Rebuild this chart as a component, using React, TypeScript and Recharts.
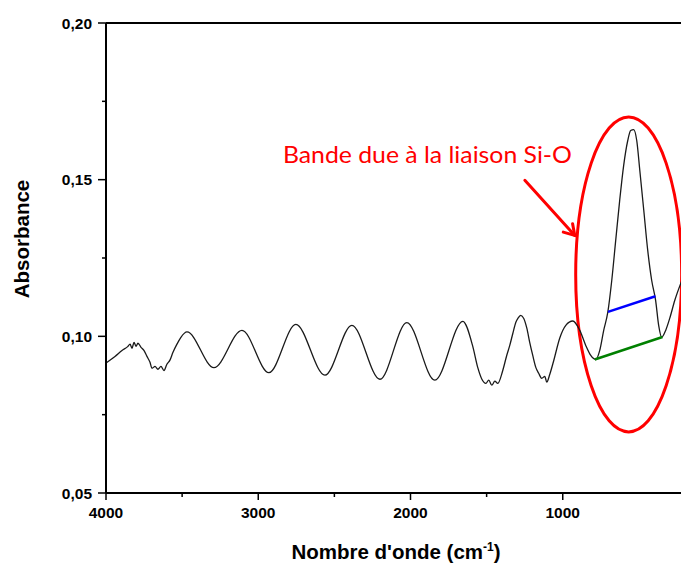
import React from 'react';
import { LineChart, Line, XAxis, YAxis, ReferenceLine, ReferenceArea, ReferenceDot } from 'recharts';

// FTIR spectrum (wavenumber in cm-1, absorbance)
const wavenumbers = [
  4000, 3941, 3895, 3856, 3842, 3829, 3816, 3803, 3790, 3770, 3751, 3731, 3711, 3698, 3678, 3659,
  3639, 3619, 3600, 3580, 3560, 3534, 3508, 3468, 3291, 3107, 2930, 2753, 2562, 2385, 2201, 2024,
  1840, 1656, 1591, 1558, 1532, 1505, 1486, 1466, 1446, 1427, 1394, 1368, 1348, 1328, 1308, 1295,
  1276, 1256, 1236, 1217, 1197, 1177, 1158, 1138, 1118, 1105, 1085, 1059, 1020, 980, 934, 888,
  849, 816, 783, 757, 731, 704, 678, 652, 626, 600, 573, 554, 534, 514, 494, 468,
  442, 416, 390, 370, 350, 324, 297, 264, 225, 166,
];
const absorbance = [
  0.0915, 0.0936, 0.0955, 0.0968, 0.0975, 0.0962, 0.0981, 0.0968, 0.0978, 0.0965, 0.0955, 0.0936, 0.0917, 0.0898, 0.0904, 0.0895,
  0.0904, 0.0891, 0.0911, 0.0924, 0.0949, 0.0975, 0.0997, 0.1014, 0.09, 0.1019, 0.0884, 0.1038, 0.0876, 0.1035, 0.0863, 0.1044,
  0.086, 0.1048, 0.0968, 0.09, 0.0864, 0.085, 0.086, 0.0844, 0.0857, 0.085, 0.0891, 0.0939, 0.0971, 0.1009, 0.1045, 0.1057,
  0.1067, 0.1057, 0.1026, 0.0981, 0.0939, 0.0901, 0.0882, 0.0866, 0.0872, 0.0854, 0.0879, 0.0923, 0.0994, 0.1035, 0.1049, 0.1019,
  0.0971, 0.0939, 0.0926, 0.0955, 0.1019, 0.1077, 0.1179, 0.1307, 0.1434, 0.1545, 0.1625, 0.1657, 0.166, 0.1625, 0.153, 0.1403,
  0.1275, 0.1179, 0.1115, 0.1035, 0.0997, 0.1019, 0.1058, 0.1115, 0.1169, 0.1236,
];

const xTicks = [4000, 3500, 3000, 2500, 2000, 1500, 1000];
const xLabelled = [4000, 3000, 2000, 1000];
const yTicks = [0.05, 0.075, 0.1, 0.125, 0.15, 0.175, 0.2];
const yLabelled = [0.05, 0.1, 0.15, 0.2];

// annotation anchors, in data units
const noteText = 'Bande due à la liaison Si-O';
const notePos = { wn: 2838, abs: 0.1552 };
const arrowSeg = [{ wn: 1249, abs: 0.1498 }, { wn: 921, abs: 0.1322 }];
const ellipseBox = { wn1: 915, wn2: 219, abs1: 0.0695, abs2: 0.17 };
const blueSeg = [{ wn: 703, abs: 0.1078 }, { wn: 391, abs: 0.1128 }];
const greenSeg = [{ wn: 790, abs: 0.0926 }, { wn: 345, abs: 0.0998 }];

const spectrum = wavenumbers.map((wn, i) => ({ wn, abs: absorbance[i] }));

const AXIS_FONT = 'Arial, "Liberation Sans", sans-serif';

const isIn = (list: number[], v: number) => list.some((t) => Math.abs(t - v) < 1e-6);

const XTick = (props: any) => {
  const { x, y, payload } = props;
  const major = isIn(xLabelled, payload.value);
  return (
    <g>
      <line x1={x} x2={x} y1={y} y2={y + (major ? 7 : 4)} stroke="#000" strokeWidth={1.5} />
      {major && (
        <text x={x} y={y + 25} textAnchor="middle" fontSize={15.5} fontWeight="bold" fontFamily={AXIS_FONT} fill="#000">
          {payload.value}
        </text>
      )}
    </g>
  );
};

const YTick = (props: any) => {
  const { x, y, payload } = props;
  const major = isIn(yLabelled, payload.value);
  return (
    <g>
      <line x1={x} x2={x - (major ? 8 : 4)} y1={y} y2={y} stroke="#000" strokeWidth={1.5} />
      {major && (
        <text x={x - 14} y={y + 5.5} textAnchor="end" fontSize={15.5} fontWeight="bold" fontFamily={AXIS_FONT} fill="#000">
          {payload.value.toFixed(2).replace('.', ',')}
        </text>
      )}
    </g>
  );
};

const XTitle = () => (
  <text x={396} y={559} textAnchor="middle" fontSize={20.5} fontWeight="bold" fontFamily={AXIS_FONT} fill="#000">
    Nombre d'onde (cm
    <tspan dy={-8} fontSize={12}>-1</tspan>
    <tspan dy={8}>)</tspan>
  </text>
);

const YTitle = () => (
  <text
    x={29}
    y={239}
    transform="rotate(-90, 29, 239)"
    textAnchor="middle"
    fontSize={20.5}
    fontWeight="bold"
    fontFamily={AXIS_FONT}
    fill="#000"
  >
    Absorbance
  </text>
);

const Arrow = (props: any) => {
  const { x1, y1, x2, y2 } = props;
  const ang = Math.atan2(y2 - y1, x2 - x1);
  const len = 12;
  const a1 = ang + Math.PI - 0.55;
  const a2 = ang + Math.PI + 0.55;
  return (
    <g stroke="#ff0000" strokeWidth={3} fill="none" strokeLinecap="round">
      <line x1={x1} y1={y1} x2={x2} y2={y2} />
      <polyline
        points={`${x2 + len * Math.cos(a1)},${y2 + len * Math.sin(a1)} ${x2},${y2} ${x2 + len * Math.cos(a2)},${y2 + len * Math.sin(a2)}`}
      />
    </g>
  );
};

const Ellipse = (props: any) => {
  const { x, y, width, height } = props;
  return (
    <ellipse
      cx={x + width / 2}
      cy={y + height / 2}
      rx={Math.abs(width) / 2}
      ry={Math.abs(height) / 2}
      fill="none"
      stroke="#ff0000"
      strokeWidth={3}
    />
  );
};

const Note = (props: any) => (
  <text
    x={props.cx}
    y={props.cy}
    fontSize={23}
    fontFamily="Lato, 'Open Sans', sans-serif"
    fill="#ff0000"
    textLength={289}
    lengthAdjust="spacingAndGlyphs"
  >
    {noteText}
  </text>
);

export default function App() {
  return (
    <div style={{ position: 'absolute', left: 0, top: 0, width: 681, height: 563, overflow: 'hidden', background: '#fff' }}>
      <LineChart width={715} height={563} data={spectrum} margin={{ top: 23, right: 0, bottom: 0, left: 0 }}>
        <XAxis
          dataKey="wn"
          type="number"
          domain={[0, 4000]}
          reversed
          ticks={xTicks}
          interval={0}
          height={70}
          tickSize={0}
          tickMargin={0}
          tickLine={false}
          tick={<XTick />}
          axisLine={{ stroke: '#000', strokeWidth: 2 }}
          label={{ content: XTitle }}
        />
        <YAxis
          type="number"
          domain={[0.05, 0.2]}
          ticks={yTicks}
          interval={0}
          width={106}
          tickSize={0}
          tickMargin={0}
          tickLine={false}
          tick={<YTick />}
          axisLine={{ stroke: '#000', strokeWidth: 2 }}
          label={{ content: YTitle }}
        />
        <ReferenceLine y={0.2} stroke="#000" strokeWidth={2} />
        <Line
          dataKey="abs"
          type="monotone"
          stroke="#1a1a1a"
          strokeWidth={1.3}
          dot={false}
          isAnimationActive={false}
        />
        <ReferenceArea
          x1={ellipseBox.wn1}
          x2={ellipseBox.wn2}
          y1={ellipseBox.abs1}
          y2={ellipseBox.abs2}
          shape={<Ellipse />}
        />
        <ReferenceLine
          segment={[{ x: blueSeg[0].wn, y: blueSeg[0].abs }, { x: blueSeg[1].wn, y: blueSeg[1].abs }]}
          stroke="#0000ff"
          strokeWidth={2.5}
        />
        <ReferenceLine
          segment={[{ x: greenSeg[0].wn, y: greenSeg[0].abs }, { x: greenSeg[1].wn, y: greenSeg[1].abs }]}
          stroke="#008000"
          strokeWidth={2.5}
        />
        <ReferenceLine
          segment={[{ x: arrowSeg[0].wn, y: arrowSeg[0].abs }, { x: arrowSeg[1].wn, y: arrowSeg[1].abs }]}
          shape={<Arrow />}
        />
        <ReferenceDot x={notePos.wn} y={notePos.abs} r={0} shape={<Note />} />
      </LineChart>
    </div>
  );
}
